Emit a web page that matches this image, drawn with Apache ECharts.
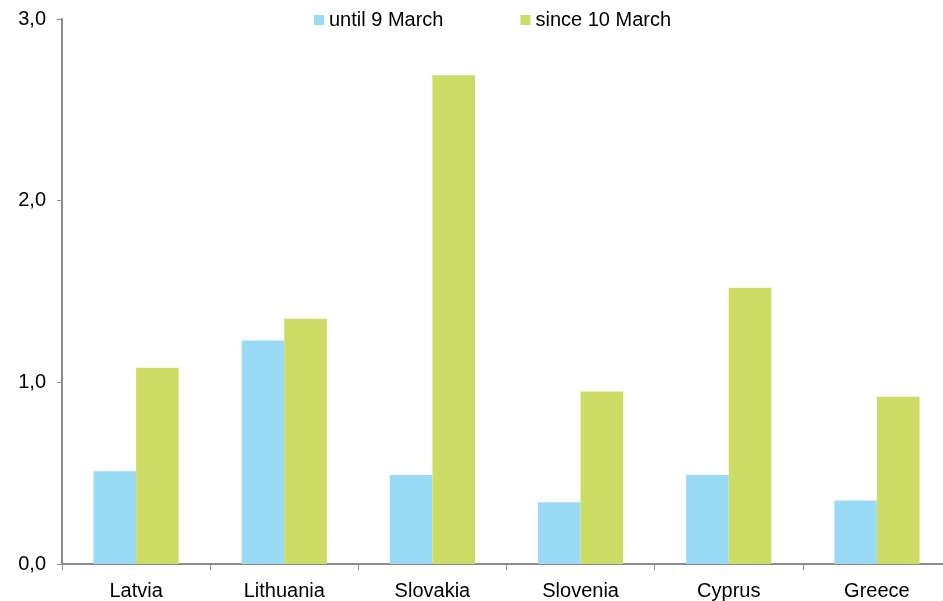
<!DOCTYPE html>
<html><head><meta charset="utf-8">
<script src="https://cdn.jsdelivr.net/npm/echarts@6/dist/echarts.min.js"></script>
<style>html,body{margin:0;padding:0;background:#fff;overflow:hidden}#c{width:952px;height:601px}</style>
</head><body><div id="c"></div>
<script>
const categories = ['Latvia','Lithuania','Slovakia','Slovenia','Cyprus','Greece'];
const seriesNames = ['until 9 March','since 10 March'];
const until9March = [0.51, 1.23, 0.49, 0.34, 0.49, 0.35];
const since10March = [1.08, 1.35, 2.69, 0.95, 1.52, 0.92];
const yTicks = [0, 1, 2, 3];

const chart = echarts.init(document.getElementById('c'));
const font = 'Liberation Sans, Arial, sans-serif';
chart.setOption({
  animation: false,
  textStyle: {fontFamily: font},
  grid: {left: 62, right: 1, top: 19, bottom: 37, containLabel: false},
  legend: {
    data: seriesNames,
    top: 5, left: 309,
    icon: 'rect', itemWidth: 10, itemHeight: 10, itemGap: 77,
    textStyle: {fontSize: 20, color: '#000', fontFamily: font}
  },
  xAxis: {
    type: 'category', data: categories,
    axisLine: {lineStyle: {color: '#8c8c8c', width: 2}},
    axisTick: {show: true, length: 6, lineStyle: {color: '#8c8c8c', width: 1}},
    axisLabel: {fontSize: 20, color: '#000', margin: 17, fontFamily: font},
    splitLine: {show: false}
  },
  yAxis: {
    type: 'value', min: yTicks[0], max: yTicks[yTicks.length-1], interval: 1,
    axisLine: {show: true, lineStyle: {color: '#8c8c8c', width: 2}},
    axisTick: {show: true, length: 5, lineStyle: {color: '#8c8c8c', width: 1}},
    axisLabel: {fontSize: 20, color: '#000', margin: 16, fontFamily: font,
      formatter: v => v.toFixed(1).replace('.', ',')},
    splitLine: {show: false}
  },
  series: [
    {name: seriesNames[0], type: 'bar', data: until9March, barGap: '0%', barCategoryGap: '42.5%',
     itemStyle: {color: '#99DBF7'}},
    {name: seriesNames[1], type: 'bar', data: since10March, barGap: '0%', barCategoryGap: '42.5%',
     itemStyle: {color: '#CDDC64'}}
  ]
});
</script></body></html>
